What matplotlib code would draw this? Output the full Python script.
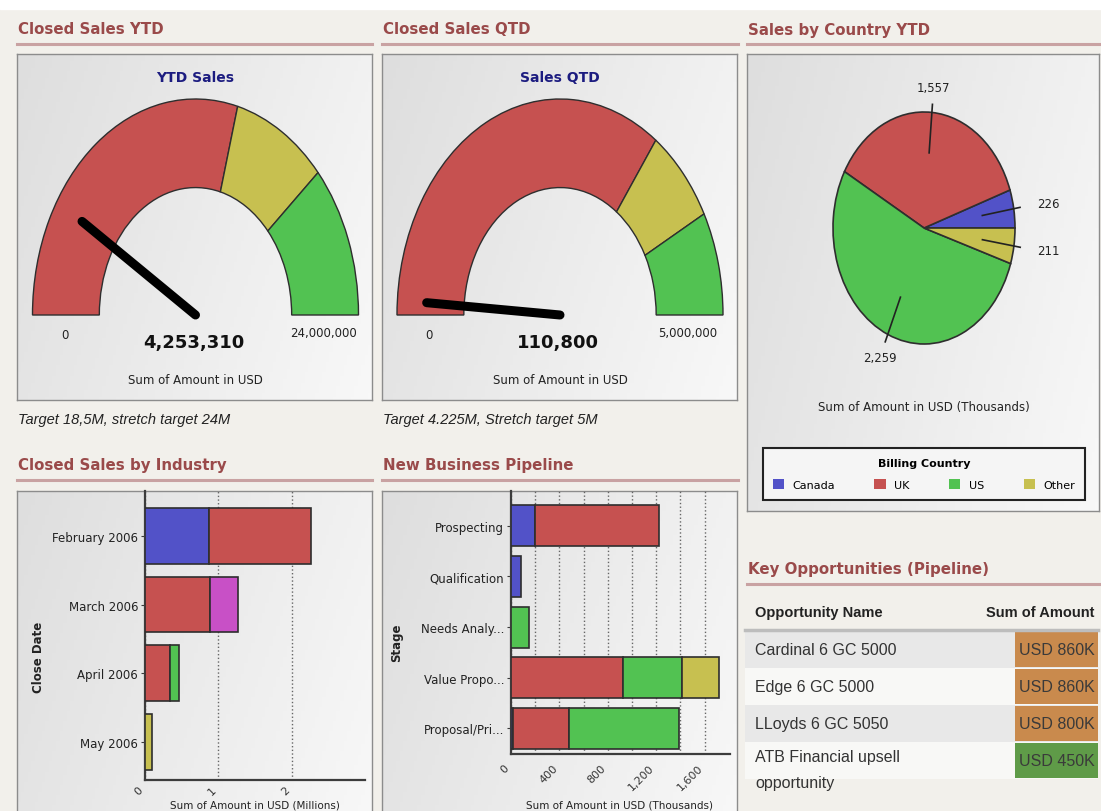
import numpy as np
import matplotlib
matplotlib.use('Agg')
import matplotlib.pyplot as plt
import matplotlib.patches as mpatches
from matplotlib.lines import Line2D
from matplotlib.colors import LinearSegmentedColormap

plt.rcParams['font.family'] = 'DejaVu Sans'

W, H = 1101, 812

# ── data ────────────────────────────────────────────────────────────────────
ytd_value = 4253310
ytd_max = 24000000
ytd_bands = [0, 14000000, 18500000, 24000000]

qtd_value = 110800
qtd_max = 5000000
qtd_bands = [0, 3500000, 4225000, 5000000]

countries = ['Canada', 'UK', 'US', 'Other']
country_sales = [226, 1557, 2259, 211]

months = ['February 2006', 'March 2006', 'April 2006', 'May 2006']
ind_blue = [0.875, 0, 0, 0]
ind_red = [1.395, 0.89, 0.34, 0]
ind_magenta = [0, 0.38, 0, 0]
ind_green = [0, 0, 0.12, 0]
ind_yellow = [0, 0, 0, 0.10]

stages = ['Prospecting', 'Qualification', 'Needs Analy...', 'Value Propo...', 'Proposal/Pri...']
pipe_blue = [200, 80, 0, 0, 15]
pipe_red = [1025, 0, 0, 928, 467]
pipe_green = [0, 0, 150, 482, 906]
pipe_yellow = [0, 0, 0, 309, 0]

opp_names = ['Cardinal 6 GC 5000', 'Edge 6 GC 5000', 'LLoyds 6 GC 5050',
             'ATB Financial upsell\nopportunity']
opp_amounts = [860, 860, 800, 450]

# ── style ───────────────────────────────────────────────────────────────────
BLUE, RED, GREEN = '#5252c8', '#c65150', '#52c252'
YELLOW, MAGENTA = '#c7c050', '#c850c6'
HEAD = '#9a4a4a'
NAVY = '#1c1c80'
EDGE = '#2e2e2e'
BG = '#f2f0eb'

fig = plt.figure(figsize=(W / 100, H / 100), dpi=100)
fig.patch.set_facecolor(BG)
fig.add_artist(mpatches.Rectangle((0, 1 - 10 / H), 1, 10 / H, color='white',
                                  transform=fig.transFigure))


def rect(x0, y0, x1, y1):
    return [x0 / W, 1 - y1 / H, (x1 - x0) / W, (y1 - y0) / H]


def ftext(x, y, s, **kw):
    return fig.text(x / W, 1 - y / H, s, **kw)


panel_cmap = LinearSegmentedColormap.from_list('panel', ['#dedede', '#f8f8f8'])


def panel(x0, y0, x1, y1):
    ax = fig.add_axes(rect(x0, y0, x1, y1))
    gx, gy = np.meshgrid(np.linspace(0, 1, 100), np.linspace(0, 1, 100))
    ax.imshow(0.75 * gx + 0.25 * gy, cmap=panel_cmap, extent=(0, 1, 0, 1),
              aspect='auto', origin='upper', vmin=0, vmax=1)
    ax.set_xticks([]); ax.set_yticks([])
    for s in ax.spines.values():
        s.set_color('#8c8c8c'); s.set_linewidth(1)
    return ax


def header(x0, x1, y, title):
    ftext(x0 + 1, y, title, color=HEAD, fontsize=10.8, fontweight='bold', va='center')
    yl = 1 - (y + 15) / H
    fig.add_artist(Line2D([x0 / W, x1 / W], [yl, yl], color='#c9a2a2', lw=2.2))


header(17, 372, 30, 'Closed Sales YTD')
header(382, 738, 30, 'Closed Sales QTD')
header(747, 1101, 30, 'Sales by Country YTD')
header(17, 372, 466, 'Closed Sales by Industry')
header(382, 738, 466, 'New Business Pipeline')
header(747, 1101, 570, 'Key Opportunities (Pipeline)')

panel(17, 55, 372, 401)
panel(382, 55, 737, 401)
panel(747, 55, 1099, 512)
panel(17, 492, 372, 830)
panel(382, 492, 737, 830)


# ── gauges ──────────────────────────────────────────────────────────────────
def gauge(cx, value, vmax, bands, title, caption, x_cap):
    cy, rh, rv = 316, 163, 216
    ax = fig.add_axes(rect(cx - 1.1 * rh, cy - 1.1 * rv, cx + 1.1 * rh, cy + 0.1 * rv))
    ax.set_xlim(-1.1, 1.1); ax.set_ylim(-0.1, 1.1); ax.axis('off')
    for lo, hi, c in zip(bands[:-1], bands[1:], [RED, YELLOW, GREEN]):
        ax.add_patch(mpatches.Wedge((0, 0), 1, 180 - 180 * hi / vmax,
                                    180 - 180 * lo / vmax, width=0.41,
                                    facecolor=c, edgecolor=EDGE, lw=1))
    a = np.deg2rad(180 - 180 * value / vmax)
    ax.plot([0, 0.82 * np.cos(a)], [0, 0.82 * np.sin(a)], color='black',
            lw=6.5, solid_capstyle='round', clip_on=False)
    ftext(cx, 78, title, color=NAVY, fontsize=10, fontweight='bold',
          ha='center', va='center')
    ftext(cx - 131, 336, '0', fontsize=8.5, ha='center', va='center', color='#222')
    ftext(cx + 128, 334, f'{vmax:,}', fontsize=8.5, ha='center', va='center', color='#222')
    ftext(cx - 2, 343, f'{value:,}', fontsize=13, fontweight='bold',
          ha='center', va='center', color='#111')
    ftext(cx, 381, 'Sum of Amount in USD', fontsize=8.5, ha='center',
          va='center', color='#222')
    ftext(x_cap, 420, caption, family='Liberation Sans', style='italic',
          fontsize=10.5, va='center', color='#222')


gauge(195.5, ytd_value, ytd_max, ytd_bands, 'YTD Sales',
      'Target 18,5M, stretch target 24M', 18)
gauge(560, qtd_value, qtd_max, qtd_bands, 'Sales QTD',
      'Target 4.225M, Stretch target 5M', 383)

# ── pie ─────────────────────────────────────────────────────────────────────
pcx, pcy, prh, prv = 924, 229, 91, 116
axp = fig.add_axes(rect(pcx - 1.5 * prh, pcy - 1.5 * prv, pcx + 1.5 * prh, pcy + 1.5 * prv))
wedges, _ = axp.pie(country_sales, colors=[BLUE, RED, GREEN, YELLOW], startangle=0,
                    counterclock=True, wedgeprops=dict(edgecolor=EDGE, lw=1.2))
axp.set_aspect('auto')
axp.set_xlim(-1.5, 1.5); axp.set_ylim(-1.5, 1.5)
cum = np.cumsum([0] + country_sales)
mids = np.deg2rad(180 * (cum[:-1] + cum[1:]) / cum[-1])
for m, v in zip(mids, country_sales):
    c, s = np.cos(m), np.sin(m)
    axp.plot([0.65 * c, 1.07 * c], [0.65 * s, 1.07 * s], color='#222', lw=1.2)
    ha = 'left' if c > 0.7 else ('right' if c < -0.7 else 'center')
    r = 1.26 if c > 0.7 else 1.22
    axp.text(r * c, r * s, f'{v:,}', ha=ha, va='center', fontsize=8.5, color='#222')

ftext(924, 408, 'Sum of Amount in USD (Thousands)', fontsize=8.5, ha='center',
      va='center', color='#222')
leg = axp.legend(wedges, countries, ncol=4, loc='upper left', mode='expand',
                 bbox_to_anchor=(757 / W, 1 - 502 / H, 334 / W, 59 / H),
                 bbox_transform=fig.transFigure, title='Billing Country',
                 title_fontproperties={'weight': 'bold', 'size': 8}, fontsize=8,
                 frameon=True, fancybox=False, edgecolor='#222', facecolor='#f5f5f5',
                 framealpha=1, borderpad=0.9, handlelength=1.0, handleheight=1.1,
                 handletextpad=0.8, columnspacing=1.0, labelspacing=0.3)
leg.get_frame().set_linewidth(1.5)
leg._legend_box.sep = 8
for h in leg.legend_handles:
    h.set_edgecolor('none')


# ── stacked bars ────────────────────────────────────────────────────────────
def stacked(box, cats, series, xlim, ylim, ticks, pad, minor=None):
    ax = fig.add_axes(rect(*box))
    ax.patch.set_visible(False)
    y = np.arange(len(cats))
    left = np.zeros(len(cats))
    for vals, col in series:
        vals = np.array(vals, dtype=float)
        m = vals > 0
        ax.barh(y[m], vals[m], left=left[m], height=0.81, color=col,
                edgecolor=EDGE, lw=1.2, zorder=3)
        left += vals
    ax.set_xlim(*xlim); ax.set_ylim(*ylim)
    ax.set_yticks(y, cats)
    ax.set_xticks(ticks, [f'{t:,}' for t in ticks], rotation=45, ha='right', va='top')
    if minor is not None:
        ax.set_xticks(minor, minor=True)
        ax.grid(axis='x', which='minor', ls=':', color='#666', lw=1)
    ax.grid(axis='x', ls=':', color='#666', lw=1)
    ax.set_axisbelow(True)
    for s in ['top', 'right']:
        ax.spines[s].set_visible(False)
    for s in ['left', 'bottom']:
        ax.spines[s].set_color('#3c3c3c'); ax.spines[s].set_linewidth(1.6)
    ax.tick_params(axis='y', length=3, pad=2, labelsize=8.5, colors='#3c3c3c', labelcolor='#222')
    ax.tick_params(axis='x', which='both', length=0, pad=pad, labelsize=8, labelcolor='#333')
    return ax


stacked((145, 492, 365, 781), months,
        [(ind_blue, BLUE), (ind_red, RED), (ind_magenta, MAGENTA),
         (ind_green, GREEN), (ind_yellow, YELLOW)],
        (0, 3), (3.55, -0.65), [0, 1, 2], 3)
ftext(38, 657, 'Close Date', rotation=90, fontsize=8.5, fontweight='bold',
      ha='center', va='center', color='#222')
ftext(255, 811, 'Sum of Amount in USD (Millions)', fontsize=7.5, ha='center',
      va='bottom', color='#222')

stacked((511, 492, 730, 755), stages,
        [(pipe_blue, BLUE), (pipe_red, RED), (pipe_green, GREEN), (pipe_yellow, YELLOW)],
        (0, 1810), (4.51, -0.69), [0, 400, 800, 1200, 1600], 6,
        minor=[200, 600, 1000, 1400])
ftext(397, 643, 'Stage', rotation=90, fontsize=8.5, fontweight='bold',
      ha='center', va='center', color='#222')
ftext(620, 811, 'Sum of Amount in USD (Thousands)', fontsize=7.5, ha='center',
      va='bottom', color='#222')

# ── key opportunities table ─────────────────────────────────────────────────
ftext(755, 613, 'Opportunity Name', family='Liberation Sans', fontweight='bold',
      fontsize=10.5, va='center', color='#222')
ftext(1094, 613, 'Sum of Amount', family='Liberation Sans', fontweight='bold',
      fontsize=10.5, va='center', ha='right', color='#222')
yl = 1 - 631 / H
fig.add_artist(Line2D([745 / W, 1098 / W], [yl, yl], color='#bdbdbd', lw=2.5))

axt = fig.add_axes(rect(745, 632, 1098, 780))
axt.set_xlim(0, 1); axt.set_ylim(3.5, -0.5); axt.axis('off')
rows = np.arange(len(opp_names))
axt.barh(rows, 1, height=1, color=['#e8e8e8', '#f8f8f6'] * 2, edgecolor='none')
cell_cols = ['#c98a4d' if a >= 500 else '#5f9b48' for a in opp_amounts]
axt.barh(rows, 0.235, left=0.765, height=0.95, color=cell_cols, edgecolor='none')
for r, name, amt in zip(rows, opp_names, opp_amounts):
    if '\n' in name:
        axt.text(0.028, r - 0.3, name, family='Liberation Sans', fontsize=11.5,
                 va='top', color='#333', linespacing=1.9, clip_on=False)
    else:
        axt.text(0.028, r, name, family='Liberation Sans', fontsize=11.5,
                 va='center', color='#333')
    axt.text(0.99, r, f'USD {amt}K', family='Liberation Sans', fontsize=11.5,
             va='center', ha='right', color='#3a3a3a')

fig.savefig('out.png', dpi=100, facecolor=BG)
